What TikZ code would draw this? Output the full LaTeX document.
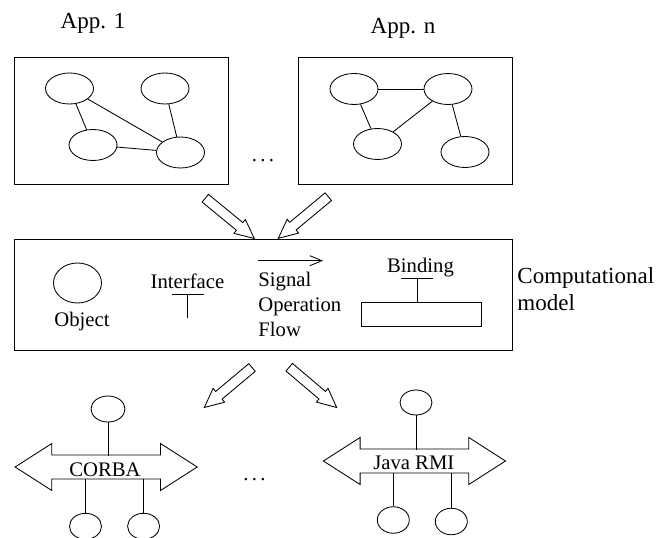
\documentclass[tikz,border=0pt]{standalone}
\usepackage{fontspec}
\setmainfont{Liberation Serif}
\usetikzlibrary{shapes.geometric,arrows.meta,calc}

% hollow block arrow from tail #1 to tip #2
\newcommand\fatarrow[2]{%
  \coordinate (#1hb) at ($(#2)!19pt!(#1)$);
  \draw[fat] ($(#1)!5pt!90:(#2)$)
    -- ($(#1hb)!5pt!90:(#2)$)
    -- ($(#1hb)!9pt!90:(#2)$)
    -- (#2)
    -- ($(#1hb)!9pt!-90:(#2)$)
    -- ($(#1hb)!5pt!-90:(#2)$)
    -- ($(#1)!5pt!-90:(#2)$)
    -- cycle;}

% two-headed bus arrow around a centre coordinate
\newcommand\busarrow[1]{%
  \draw[fat] (#1) ++(-90.8,0) -- ++(36.7,-23.5) -- ++(0,11.5) -- ++(108.7,0)
    -- ++(0,-11.5) -- ++(36.7,23.5) -- ++(-36.7,23.5) -- ++(0,-11.5)
    -- ++(-108.7,0) -- ++(0,11.5) -- cycle;}

% widely spaced ellipsis dots
\newcommand\widedots{.\kern3.3pt.\kern3.3pt.}

\begin{document}
\begin{tikzpicture}[x=1pt,y=-1pt,line width=0.85pt,
  lbl/.style={font=\fontsize{20.7}{25}\selectfont,inner sep=0,anchor=base},
  title/.style={font=\fontsize{23}{27}\selectfont,inner sep=0,anchor=base},
  frame/.style={draw,inner sep=0,anchor=north west},
  obj/.style={ellipse,draw,inner sep=0,minimum width=48pt,minimum height=31pt},
  site/.style={ellipse,draw,inner sep=0,minimum width=32pt,minimum height=25pt},
  fat/.style={draw,line width=0.85pt,line join=miter},
  ]
\useasboundingbox (0,0) rectangle (659,538);

% ---- application graphs ----
\node[title] (t1) at (93,28.5) {App. 1};
\node[title] (tn) at (403,33) {App. n};

\node[frame,minimum width=214pt,minimum height=127pt] (app1) at (14,57) {};
\node[frame,minimum width=214pt,minimum height=127pt] (appn) at (298,57) {};

\node[obj] (e1) at (69.5,88.5) {};
\node[obj] (e2) at (165,88.5) {};
\node[obj] (e3) at (93,145) {};
\node[obj] (e4) at (180.5,152.5) {};
\draw (e1) -- (e3);
\draw (e1) -- (e4);
\draw (e2) -- (e4);
\draw (e3) -- (e4);

\node[obj] (f1) at (354,89) {};
\node[obj] (f2) at (448,89) {};
\node[obj] (f3) at (377.5,144) {};
\node[obj] (f4) at (465,152) {};
\draw (f1) -- (f2);
\draw (f1) -- (f3);
\draw (f2) -- (f3);
\draw (f2) -- (f4);

\node[lbl] (dots1) at (263,161.5) {\widedots};

% ---- arrows into the model ----
\coordinate (a1) at (205.3,198.2); \coordinate (a1tip) at (254.3,238.5);
\coordinate (a2) at (328.3,196.7); \coordinate (a2tip) at (278.3,238.3);
\fatarrow{a1}{a1tip}
\fatarrow{a2}{a2tip}

% ---- computational model ----
\node[frame,minimum width=498pt,minimum height=111pt] (model) at (14,239) {};

\node[ellipse,draw,inner sep=0,minimum width=48pt,minimum height=40pt] (objsym) at (77.5,283) {};
\node[lbl] (objlbl) at (82,326) {Object};

\node[lbl] (iflbl) at (187.5,288.3) {Interface};
\coordinate (ifl) at (172,294.3); \coordinate (ifr) at (204,294.3);
\coordinate (ift) at (187.7,294.3); \coordinate (ifb) at (187.7,318);
\draw (ifl) -- (ifr);
\draw (ift) -- (ifb);

\coordinate (sigs) at (258,260.7); \coordinate (sige) at (323,260.7);
\draw[-{Straight Barb[length=12pt,width=10pt]}] (sigs) -- (sige);
\node[lbl,anchor=base west] (sig) at (258,286) {Signal};
\node[lbl,anchor=base west] (op) at (258,311.5) {Operation};
\node[lbl,anchor=base west] (flow) at (258,336.5) {Flow};

\node[lbl] (bindlbl) at (420.5,272.3) {Binding};
\node[frame,minimum width=120pt,minimum height=24pt] (bindbox) at (361,302) {};
\coordinate (bl) at (401,278.7); \coordinate (br) at (433,278.7);
\coordinate (bt) at (417,278.7);
\draw (bl) -- (br);
\draw (bt) -- (bt |- bindbox.north);

\node[title,anchor=base west] (cm1) at (517,283.3) {Computational};
\node[title,anchor=base west] (cm2) at (517,310.3) {model};

% ---- arrows out of the model ----
\coordinate (a3) at (252,367.5); \coordinate (a3tip) at (204.3,407.5);
\coordinate (a4) at (289.2,367.2); \coordinate (a4tip) at (336.7,407.5);
\fatarrow{a3}{a3tip}
\fatarrow{a4}{a4tip}

% ---- CORBA ----
\coordinate (corba) at (105.9,467);
\busarrow{corba}
\node[lbl] (corbalbl) at (105,476) {CORBA};
\coordinate (corbatop) at (105.9,455.5);
\coordinate (corbabot) at (105.9,478.5);
\node[site,minimum width=34pt,minimum height=26pt] (c1) at (108,409) {};
\node[site,minimum width=32pt,minimum height=26pt] (c2) at (85.5,526.3) {};
\node[site,minimum width=32pt,minimum height=26pt] (c3) at (143.6,526.3) {};
\draw (c1) -- (c1 |- corbatop);
\draw (c2) -- (c2 |- corbabot);
\draw (c3) -- (c3 |- corbabot);

\node[lbl] (dots2) at (254.5,480.5) {\widedots};

% ---- Java RMI ----
\coordinate (rmi) at (414.2,461);
\busarrow{rmi}
\node[lbl] (rmilbl) at (413.8,469.3) {Java RMI};
\coordinate (rmitop) at (414.2,449.5);
\coordinate (rmibot) at (414.2,472.5);
\node[site] (r1) at (416,402.5) {};
\node[site,minimum height=26.5pt] (r2) at (393.3,520) {};
\node[site,minimum height=26.5pt] (r3) at (451.3,521.5) {};
\draw (r1) -- (r1 |- rmitop);
\draw (r2) -- (r2 |- rmibot);
\draw (r3) -- (r3 |- rmibot);
\end{tikzpicture}
\end{document}
